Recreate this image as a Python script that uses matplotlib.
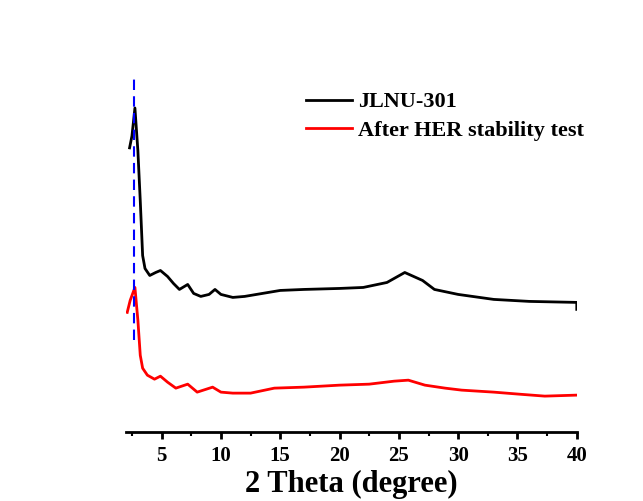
import matplotlib
matplotlib.use('Agg')
import matplotlib.pyplot as plt
from matplotlib.ticker import MultipleLocator

# XRD patterns (intensity in a.u.)
two_theta_jlnu = [2.3, 2.5, 2.75, 3.0, 3.2, 3.4, 3.6, 4.0, 4.5, 4.9, 5.5, 6.0, 6.5, 7.2, 7.7,
                  8.3, 9.0, 9.5, 10, 11, 12, 13, 15, 17, 20, 22, 24, 25.5, 27, 28, 30, 33,
                  36, 40, 40]
intensity_jlnu = [2850, 2970, 3250, 2820, 2320, 1770, 1640, 1570, 1600, 1620, 1560, 1490,
                  1430, 1480, 1390, 1360, 1380, 1430, 1380, 1350, 1360, 1380, 1420, 1430,
                  1440, 1450, 1500, 1600, 1520, 1430, 1380, 1330, 1310, 1300, 1230]

two_theta_after = [2.1, 2.35, 2.75, 3.0, 3.2, 3.4, 3.8, 4.4, 4.9, 5.5, 6.2, 7.2, 8.0, 9.3,
                   10, 11, 12.5, 14.5, 17, 20, 22.5, 24.6, 25.8, 27.2, 28.9, 30.3, 33,
                   35.1, 37.3, 40]
intensity_after = [1200, 1320, 1450, 1120, 770, 640, 570, 530, 560, 500, 440, 480, 400, 450,
                   400, 390, 390, 440, 450, 470, 480, 510, 520, 470, 440, 420, 400, 380,
                   360, 370]

peak_pos = 2.7
peak_line_span = [920, 3570]

plt.rcParams['font.family'] = ['Liberation Serif', 'DejaVu Serif']
plt.rcParams['font.weight'] = 'bold'

fig = plt.figure(figsize=(6.43, 5.01), dpi=100)
ax = fig.add_axes([0.196, 0.1377, 0.701, 0.80])

ax.plot(two_theta_jlnu, intensity_jlnu, color='black', lw=2, label='JLNU-301')
ax.plot(two_theta_after, intensity_after, color='red', lw=2, label='After HER stability test')
ax.plot([peak_pos, peak_pos], peak_line_span, color='blue', lw=1.5, ls=(0, (5, 3)))

ax.set_xlim(2, 40)
ax.set_ylim(0, 4020)

for side in ['left', 'top', 'right']:
    ax.spines[side].set_visible(False)
ax.spines['bottom'].set_linewidth(2)
ax.set_yticks([])

ax.xaxis.set_major_locator(MultipleLocator(5))
ax.xaxis.set_minor_locator(MultipleLocator(2.5))
ax.set_xticks([5, 10, 15, 20, 25, 30, 35, 40])
ax.tick_params(axis='x', which='major', direction='out', length=5, width=2, labelsize=15, pad=5)
ax.tick_params(axis='x', which='minor', direction='out', length=3, width=1.5)
for lbl in ax.get_xticklabels():
    lbl.set_fontweight('bold')

ax.set_xlabel('2 Theta (degree)', fontsize=22, fontweight='bold', labelpad=3)

ax.legend(loc='upper left', bbox_to_anchor=(0.458, 0.839), bbox_transform=fig.transFigure,
          frameon=False, handlelength=2.1, handletextpad=0.25,
          labelspacing=0.35, borderpad=0, prop={'weight': 'bold', 'size': 16})

fig.savefig('out.png', dpi=100)
